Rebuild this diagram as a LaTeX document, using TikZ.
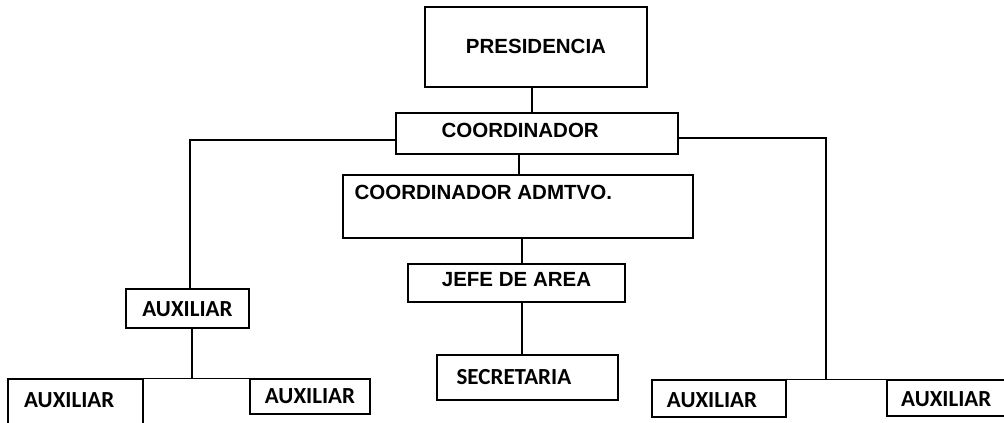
\documentclass[tikz,border=0pt]{standalone}
\usepackage{fontspec}
\setmainfont{Liberation Sans}
\newfontfamily\calfont{Carlito}
\usetikzlibrary{positioning}

\tikzset{
  box/.style={draw, line width=1.2pt, inner sep=0pt},
  tarial/.style={font=\fontsize{20.5}{22}\selectfont\bfseries, inner sep=0pt},
  tcal/.style={font=\calfont\fontsize{23}{25}\selectfont\bfseries, inner sep=0pt},
  link/.style={line width=1.2pt}
}

\begin{document}
\begin{tikzpicture}[x=1pt,y=-1pt]
\useasboundingbox (0,0) rectangle (1004,423);
\clip (0,0) rectangle (1004,423);
% boxes
\node[box, minimum width=222pt, minimum height=80pt] (pres) at (536,47) {};
\node[box, minimum width=282pt, minimum height=41pt] (coord) at (537,133.5) {};
\node[box, minimum width=350pt, minimum height=63pt] (adm) at (518,206.5) {};
\node[box, minimum width=217pt, minimum height=38pt] (jefe) at (516.5,283) {};
\node[box, minimum width=181pt, minimum height=45pt] (secr) at (527.5,377.5) {};
\node[box, minimum width=123pt, minimum height=39pt] (aux1) at (187.5,308.5) {};
\node[box, minimum width=135pt, minimum height=60pt] (aux2) at (75.5,409) {};
\node[box, minimum width=120pt, minimum height=35pt] (aux3) at (310,396.5) {};
\node[box, minimum width=134pt, minimum height=37pt] (aux4) at (719,398.5) {};
\node[box, minimum width=140pt, minimum height=36pt] (aux5) at (957,398) {};
% texts
\node[tarial] (tpres) at ([yshift=1pt]pres.center) {PRESIDENCIA};
\node[tarial, anchor=west] (tcoord) at ([xshift=46pt,yshift=3pt]coord.west) {COORDINADOR};
\node[tarial, anchor=west] (tadm) at ([xshift=12pt,yshift=14pt]adm.west) {COORDINADOR ADMTVO.};
\node[tarial] (tjefe) at ([yshift=3pt]jefe.center) {JEFE DE AREA};
\node[tcal, anchor=west] (tsecr) at ([xshift=20pt]secr.west) {SECRETARIA};
\node[tcal] (taux1) at ([yshift=-1pt]aux1.center) {AUXILIAR};
\node[tcal, anchor=west] (taux2) at (24,400) {AUXILIAR};
\node[tcal] (taux3) at ([yshift=0.5pt]aux3.center) {AUXILIAR};
\node[tcal] (taux4) at (712,400) {AUXILIAR};
\node[tcal, anchor=west] (taux5) at (901,399) {AUXILIAR};
% connectors
\coordinate (lt) at (190,140);
\coordinate (rt) at (826,138);
\coordinate (lj) at (192,379);
\coordinate (rj) at (826,379);
\draw[link] (pres.south -| 532,0) -- (coord.north -| 532,0);
\draw[link] (coord.south -| 519,0) -- (adm.north -| 519,0);
\draw[link] (adm.south -| 522,0) -- (jefe.north -| 522,0);
\draw[link] (jefe.south -| 522,0) -- (secr.north -| 522,0);
\draw[link] (coord.west |- lt) -- (lt) -- (aux1.north -| lt);
\draw[link] (coord.east |- rt) -- (rt) -- (rj);
\draw[link] (aux1.south -| lj) -- (lj);
\draw[link] (aux2.north east) -- (aux3.north west);
\draw[link] (aux4.north east) -- (aux5.north west);
\end{tikzpicture}
\end{document}
